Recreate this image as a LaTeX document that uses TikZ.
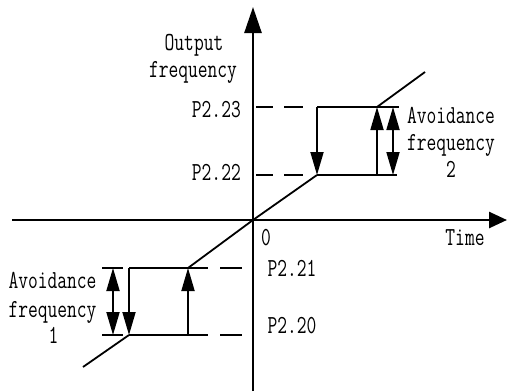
\documentclass[tikz,border=0pt]{standalone}
\usepackage{fontspec}
\usetikzlibrary{arrows.meta}
\newfontfamily\simfont[FakeStretch=0.73]{Latin Modern Mono}
\begin{document}
\begin{tikzpicture}[x=1pt,y=-1pt,
  axisline/.style={line width=2.6pt},
  curve/.style={line width=1.8pt},
  flow/.style={line width=1.8pt,-{Triangle[length=23pt,width=13pt]}},
  dimline/.style={line width=1.8pt,{Triangle[length=23pt,width=13pt]}-{Triangle[length=23pt,width=13pt]}},
  lbl/.style={inner sep=0pt,font=\simfont\fontsize{26}{28}\selectfont}]
\useasboundingbox (0,0) rectangle (508,391);
% coordinates
\coordinate (o) at (253,220);
\coordinate (ybot) at (253,391);
\coordinate (ytop) at (253,7);
\coordinate (xl) at (12,220);
\coordinate (xr) at (507,220);
% axes
\draw[axisline,-{Triangle[length=26pt,width=17pt]}] (ybot) -- (ytop);
\draw[axisline,-{Triangle[length=18pt,width=16pt]}] (xl) -- (xr);
% upper hysteresis
\coordinate (ua) at (317,175);
\coordinate (ub) at (317,107);
\coordinate (uc) at (377,107);
\coordinate (ud) at (377,175);
\coordinate (ue) at (425,72);
\draw[curve] (o) -- (ua);
\draw[curve] (uc) -- (ue);
\draw[curve] (ub) -- (399,107);
\draw[curve] (ua) -- (397,175);
\draw[flow] (ub) -- (ua);
\draw[flow] (ud) -- (uc);
\coordinate (udt) at (393,107);
\coordinate (udb) at (393,175);
\draw[dimline] (udt) -- (udb);
\draw[curve] (256,107) -- (273,107) (284,107) -- (303,107);
\draw[curve] (256,175) -- (273,175) (284,175) -- (303,175);
% lower hysteresis
\coordinate (la) at (188,268);
\coordinate (lb) at (129,268);
\coordinate (lc) at (129,335);
\coordinate (ld) at (188,335);
\coordinate (le) at (83,367);
\draw[curve] (la) -- (o);
\draw[curve] (le) -- (lc);
\draw[curve] (lb) -- (208,268);
\draw[curve] (lc) -- (208,335);
\draw[curve] (102,268) -- (123,268) (102,335) -- (123,335);
\draw[curve] (220,268) -- (242,268) (220,335) -- (242,335);
\draw[flow] (lb) -- (lc);
\draw[flow] (ld) -- (la);
\coordinate (ldt) at (113,268);
\coordinate (ldb) at (113,335);
\draw[dimline] (ldt) -- (ldb);
% labels
\node[lbl,anchor=base] (out1) at (194,50) {Output};
\node[lbl,anchor=base] (out2) at (193,77) {frequency};
\node[lbl,anchor=base east] (p223) at (241,117) {P2.23};
\node[lbl,anchor=base east] (p222) at (241,180) {P2.22};
\node[lbl,anchor=base] (zero) at (266,245) {0};
\node[lbl,anchor=base] (time) at (465,245) {Time};
\node[lbl,anchor=base] (p221) at (292,276) {P2.21};
\node[lbl,anchor=base] (p220) at (292,333) {P2.20};
\node[lbl,anchor=base] (a2a) at (451,123) {Avoidance};
\node[lbl,anchor=base] (a2b) at (451,150) {frequency};
\node[lbl,anchor=base] (a2c) at (451,177) {2};
\node[lbl,anchor=base] (a1a) at (52.5,288) {Avoidance};
\node[lbl,anchor=base] (a1b) at (52.5,317) {frequency};
\node[lbl,anchor=base] (a1c) at (53.5,343) {1};
\end{tikzpicture}
\end{document}
